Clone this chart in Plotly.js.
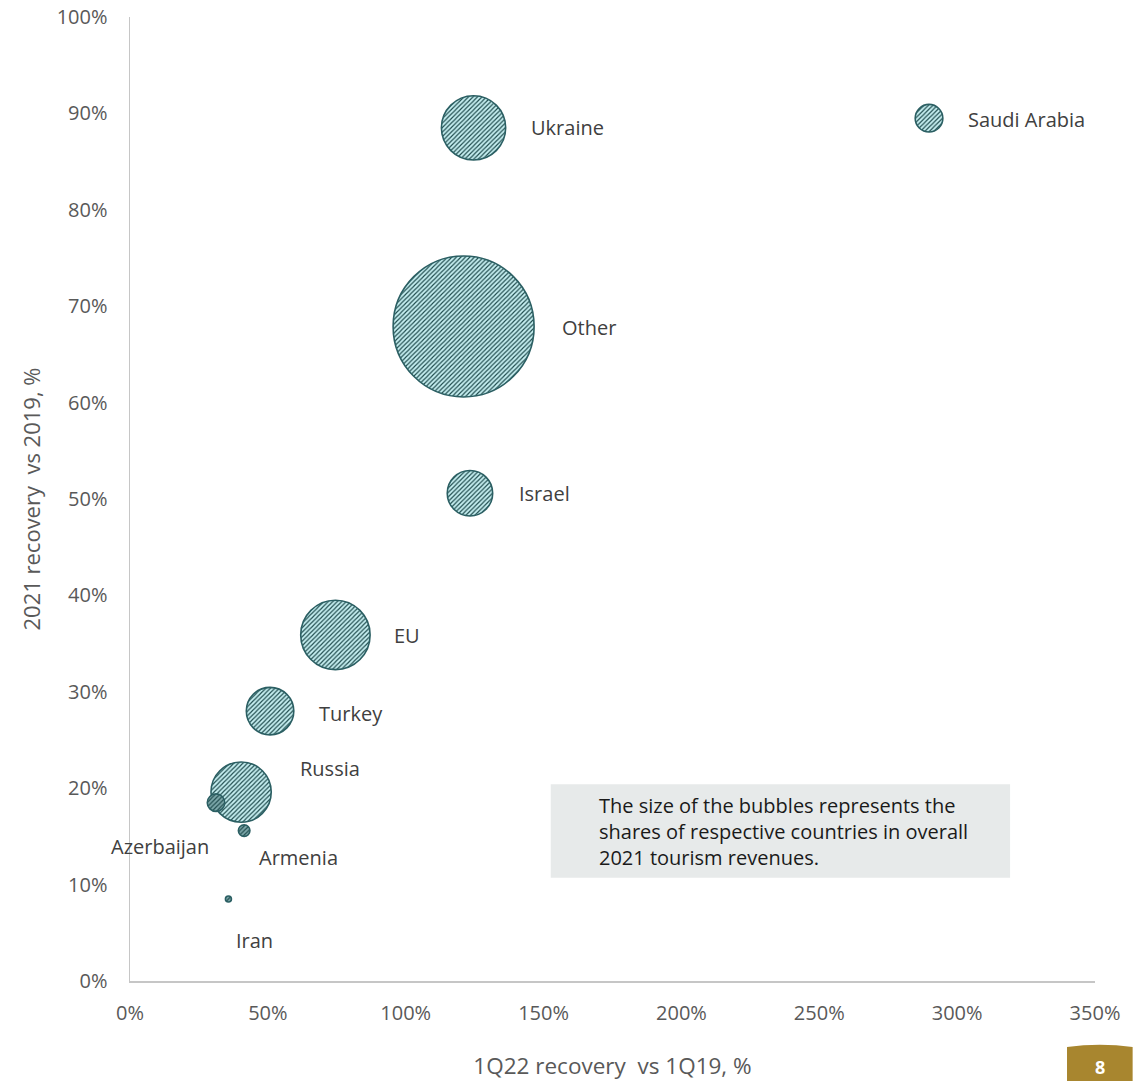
<!DOCTYPE html>
<html>
<head>
<meta charset="utf-8">
<script src="https://cdn.plot.ly/plotly-3.0.1.min.js"></script>
<style>
html,body{margin:0;padding:0;background:#fff;}
#chart{width:1148px;height:1081px;}
</style>
</head>
<body>
<div id="chart"></div>
<script>
// ---- data ----
const countries = ['Other','EU','Ukraine','Russia','Turkey','Israel','Saudi Arabia','Azerbaijan','Armenia','Iran'];
const recovery1Q22 = [121.0, 74.5, 124.6, 40.3, 50.8, 123.3, 289.8, 31.2, 41.4, 35.7];   // x, %
const recovery2021 = [67.9, 35.9, 88.5, 19.6, 28.0, 50.6, 89.5, 18.5, 15.6, 8.5];       // y, %
const revenueShare = [52.0, 12.6, 10.8, 9.5, 5.9, 5.4, 2.0, 0.8, 0.35, 0.04];           // share of 2021 revenues, %
const xTickVals = [0, 50, 100, 150, 200, 250, 300, 350];
const xTickText = ['0%', '50%', '100%', '150%', '200%', '250%', '300%', '350%'];
const yTickVals = [0, 10, 20, 30, 40, 50, 60, 70, 80, 90, 100];
const yTickText = ['0%', '10%', '20%', '30%', '40%', '50%', '60%', '70%', '80%', '90%', '100%'];

// label placement (pixels, styling only)
const labelShiftX = [96, 57, 55, 57, 47, 47, 37, -5, 13, 6];
const labelShiftY = [-1, -1, 0, 24, -2, 0, -1, -44, -27, -41];
const labelAnchor = ['left','left','left','left','left','left','left','right','left','left'];

const FONT = '"Open Sans", "Noto Sans", sans-serif';

const trace = {
  type: 'scatter',
  mode: 'markers',
  x: recovery1Q22,
  y: recovery2021,
  text: countries,
  marker: {
    size: revenueShare,
    sizemode: 'area',
    sizeref: 2 * 52.0 / (141 * 141),
    sizemin: 3,
    color: '#c6eff1',
    opacity: 1,
    line: {color: '#2b5f63', width: 1.6}
  },
  hoverinfo: 'text'
};

const annotations = countries.map((c, i) => ({
  x: recovery1Q22[i], y: recovery2021[i], xref: 'x', yref: 'y',
  text: c, showarrow: false,
  xanchor: labelAnchor[i], yanchor: 'middle',
  xshift: labelShiftX[i], yshift: labelShiftY[i],
  font: {family: FONT, size: 20, color: '#404040'}
}));

annotations.push({
  xref: 'paper', yref: 'paper', x: 0.484, y: 0.1546,
  xanchor: 'left', yanchor: 'middle', align: 'left', showarrow: false,
  text: 'The size of the bubbles represents the<br>shares of respective countries in overall<br>2021 tourism revenues.',
  font: {family: FONT, size: 20, color: '#1a1a1a'}
});

annotations.push({
  xref: 'paper', yref: 'paper', x: 1.005, y: -0.1037,
  xanchor: 'center', yanchor: 'bottom', showarrow: false,
  text: '<b>8</b>',
  font: {family: FONT, size: 18, color: '#ffffff'}
});

const shapes = [
  {type: 'rect', xref: 'paper', yref: 'paper', x0: 0.436, x1: 0.912, y0: 0.107, y1: 0.204,
   fillcolor: '#e7eaea', line: {width: 0}, layer: 'below'},
  {type: 'path', xref: 'paper', yref: 'paper',
   path: 'M 0.971 -0.12 L 0.971 -0.0685 Q 1.005 -0.064 1.039 -0.0685 L 1.039 -0.12 Z',
   fillcolor: '#a8862f', line: {width: 0}}
];

const axisCommon = {
  showgrid: false, zeroline: false, showline: true,
  linecolor: '#c6c6c6', linewidth: 1.5,
  ticks: '', tickmode: 'array',
  tickfont: {family: FONT, size: 20, color: '#595959'}
};

const layout = {
  width: 1148, height: 1081,
  margin: {l: 130, r: 53, t: 17, b: 100},
  paper_bgcolor: '#ffffff', plot_bgcolor: '#ffffff',
  showlegend: false,
  xaxis: Object.assign({}, axisCommon, {
    range: [0, 350], tickvals: xTickVals, ticktext: xTickText, ticklabelstandoff: 13,
    title: {text: '1Q22 recovery  vs 1Q19, %', font: {family: FONT, size: 22.5, color: '#595959'}, standoff: 36}
  }),
  yaxis: Object.assign({}, axisCommon, {
    range: [0, 100], tickvals: yTickVals, ticktext: yTickText, ticklabelstandoff: 17,
    title: {text: '2021 recovery  vs 2019, %', font: {family: FONT, size: 22, color: '#595959'}, standoff: 10}
  }),
  annotations: annotations,
  shapes: shapes,
  font: {family: FONT}
};

Plotly.newPlot('chart', [trace], layout, {staticPlot: true, displayModeBar: false}).then(gd => {
  const svg = gd.querySelector('svg.main-svg');
  const NS = 'http://www.w3.org/2000/svg';
  let defs = svg.querySelector('defs');
  if (!defs) { defs = document.createElementNS(NS, 'defs'); svg.insertBefore(defs, svg.firstChild); }
  function makeHatch(id, bgColor) {
    const pat = document.createElementNS(NS, 'pattern');
    pat.setAttribute('id', id);
    pat.setAttribute('patternUnits', 'userSpaceOnUse');
    pat.setAttribute('width', '4.5');
    pat.setAttribute('height', '4.5');
    const bg = document.createElementNS(NS, 'rect');
    bg.setAttribute('width', '4.5'); bg.setAttribute('height', '4.5');
    bg.setAttribute('fill', bgColor);
    pat.appendChild(bg);
    const ln = document.createElementNS(NS, 'path');
    ln.setAttribute('d', 'M-1,1 L1,-1 M0,4.5 L4.5,0 M3.5,5.5 L5.5,3.5');
    ln.setAttribute('stroke', '#1e4a4c');
    ln.setAttribute('stroke-width', '1.15');
    pat.appendChild(ln);
    defs.appendChild(pat);
  }
  makeHatch('bubbleHatch', '#c6eff1');
  makeHatch('bubbleHatchDark', '#7ea9ab');
  gd.querySelectorAll('.scatterlayer .point').forEach((p, i) => {
    p.style.fill = revenueShare[i] < 1 ? 'url(#bubbleHatchDark)' : 'url(#bubbleHatch)';
  });
});
</script>
</body>
</html>
